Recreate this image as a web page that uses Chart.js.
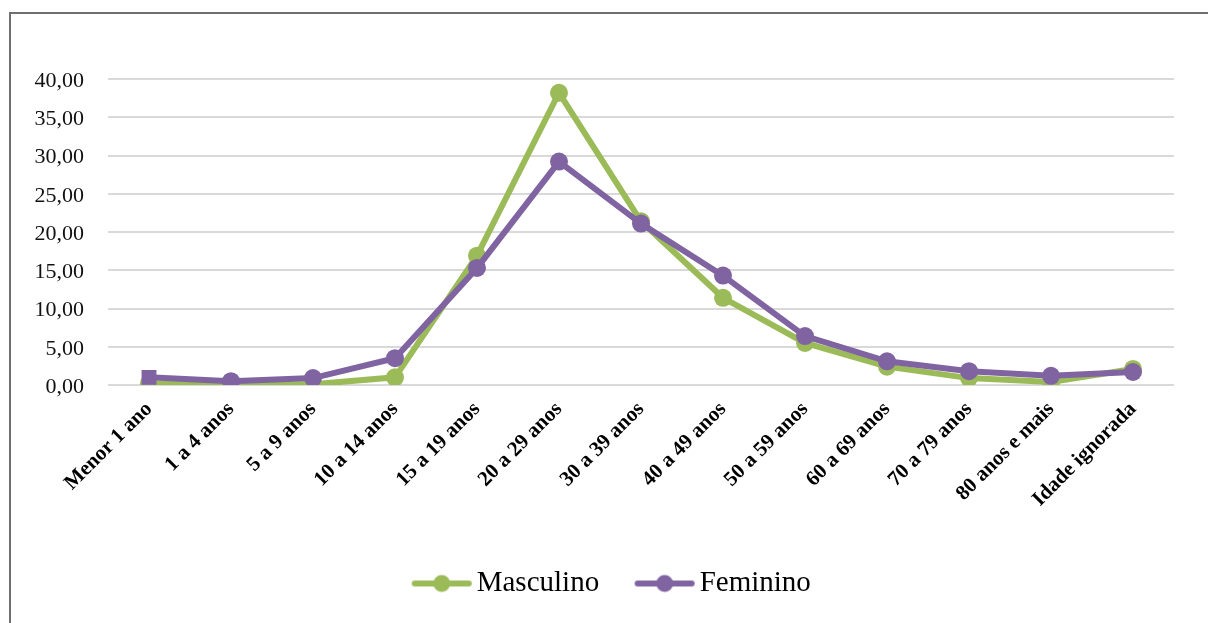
<!DOCTYPE html>
<html>
<head>
<meta charset="utf-8">
<script src="https://cdn.jsdelivr.net/npm/chart.js@4"></script>
<style>
  body { margin: 0; background: #fff; }
  #wrap { position: relative; width: 1208px; height: 623px; overflow: hidden; }
  #frame { position: absolute; left: 9px; top: 12px; width: 1300px; height: 700px;
           border-left: 2px solid #6f6f6f; border-top: 2px solid #6f6f6f; pointer-events: none; }
  canvas { position: absolute; left: 0; top: 0; }
</style>
</head>
<body>
<div id="wrap">
  <canvas id="myChart" width="1208" height="623"></canvas>
  <div id="frame"></div>
</div>
<script>
var faixas = ["Menor 1 ano", "1 a 4 anos", "5 a 9 anos", "10 a 14 anos", "15 a 19 anos",
  "20 a 29 anos", "30 a 39 anos", "40 a 49 anos", "50 a 59 anos", "60 a 69 anos",
  "70 a 79 anos", "80 anos e mais", "Idade ignorada"];
var masculino = [0.2, 0.1, 0.1, 1.0, 16.9, 38.2, 21.4, 11.4, 5.5, 2.4, 0.9, 0.4, 2.1];
var feminino = [1.0, 0.5, 0.9, 3.5, 15.3, 29.2, 21.1, 14.3, 6.4, 3.1, 1.8, 1.2, 1.7];
var ticksY = [0, 5, 10, 15, 20, 25, 30, 35, 40];

var verde = "#9bbb59", roxo = "#8064a2";
var serif = "'Liberation Serif', 'DejaVu Serif', serif";

// legend marker: short line with a dot in the middle
function marcador(cor) {
  var c = document.createElement("canvas");
  c.width = 62; c.height = 20;
  var g = c.getContext("2d");
  g.strokeStyle = cor; g.lineWidth = 6; g.lineCap = "round";
  g.beginPath(); g.moveTo(4, 10); g.lineTo(58, 10); g.stroke();
  g.fillStyle = cor;
  g.beginPath(); g.arc(31, 10, 8.5, 0, Math.PI * 2); g.fill();
  return c;
}

var estilosFem = feminino.map(function(v, i){ return i === 0 ? "rect" : "circle"; });
var raiosFem = feminino.map(function(v, i){ return i === 0 ? 10.5 : 9; });

var ctx = document.getElementById("myChart").getContext("2d");
var myChart = new Chart(ctx, {
  type: "line",
  data: {
    labels: faixas,
    datasets: [
      { label: "Masculino", data: masculino, borderColor: verde, backgroundColor: verde,
        borderWidth: 6, pointRadius: 9, pointBorderWidth: 0, tension: 0, order: 2 },
      { label: "Feminino", data: feminino, borderColor: roxo, backgroundColor: roxo,
        borderWidth: 6, pointRadius: raiosFem, pointStyle: estilosFem,
        pointBorderWidth: 0, tension: 0, order: 1 }
    ]
  },
  options: {
    responsive: false,
    animation: false,
    devicePixelRatio: 1,
    layout: { padding: { top: 79, left: 24, right: 0, bottom: 15 } },
    plugins: {
      tooltip: { enabled: false },
      legend: {
        position: "bottom",
        labels: {
          usePointStyle: true,
          pointStyleWidth: 41,
          padding: 45,
          color: "#000",
          font: { family: serif, size: 29 },
          generateLabels: function(chart) {
            return chart.data.datasets.map(function(ds, i){
              return { text: ds.label, datasetIndex: i, pointStyle: marcador(ds.borderColor),
                       fillStyle: ds.borderColor, strokeStyle: ds.borderColor, lineWidth: 0,
                       fontColor: "#000" };
            });
          }
        }
      }
    },
    scales: {
      x: {
        offset: true,
        grid: { display: false, drawTicks: false, offset: true },
        border: { display: false },
        ticks: {
          minRotation: 45, maxRotation: 45, padding: 12, color: "#000",
          font: { family: serif, size: 21, weight: "bold" }
        },
        afterFit: function(scale){ scale.height = 139; }
      },
      y: {
        min: 0, max: 40,
        grid: { color: "#d9d9d9", lineWidth: 2, drawTicks: false },
        border: { display: false },
        afterBuildTicks: function(scale){ scale.ticks = ticksY.map(function(v){ return { value: v }; }); },
        ticks: {
          padding: 24, labelOffset: 2, color: "#111",
          font: { family: serif, size: 22 },
          callback: function(v){ return v.toFixed(2).replace(".", ","); }
        },
        afterFit: function(scale){ scale.width = 84; }
      },
      // empty strip on the right edge of the plot
      direita: {
        position: "right",
        grid: { display: false, drawTicks: false },
        border: { display: false },
        ticks: { display: false },
        afterFit: function(scale){ scale.width = 34; }
      }
    }
  }
});
</script>
</body>
</html>
